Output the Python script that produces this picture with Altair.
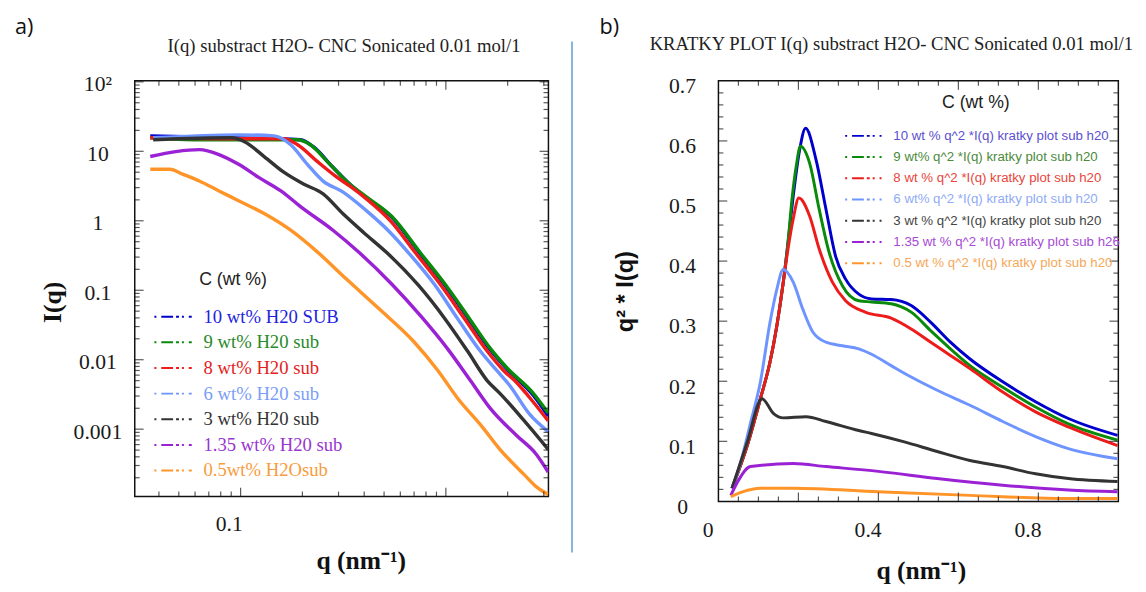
import altair as alt
import pandas as pd

SERIES = ["10", "9", "8", "6", "3", "1.35", "0.5"]
LINE_COLORS = ["#0000cc", "#0a8a0a", "#ee1b1b", "#6e94ff", "#333333", "#9b22d4", "#ff9528"]
LEFT_TEXT_COLORS = ["#1f1fe0", "#2a8a2a", "#e42222", "#7b9ef6", "#333333", "#9a34d2", "#f89c40"]
RIGHT_TEXT_COLORS = ["#5a4fd0", "#4a8a3a", "#e8453c", "#8fabf5", "#454545", "#a64ad4", "#f5a85a"]
LEFT_LABELS = ["10 wt% H20 SUB", "9 wt% H20 sub", "8 wt% H20 sub", "6 wt% H20 sub",
               "3 wt% H20 sub", "1.35 wt% H20 sub", "0.5wt% H2Osub"]
RIGHT_LABELS = [" 10 wt % q^2 *I(q) kratky plot sub h20", "9 wt% q^2 *I(q) kratky plot sub h20",
                "8 wt % q^2 *I(q) kratky plot sub h20", "6 wt% q^2 *I(q) kratky plot sub h20",
                "3 wt % q^2 *I(q) kratky plot sub h20", "1.35 wt % q^2 *I(q) kratky plot sub h26",
                "0.5 wt % q^2 *I(q) kratky plot sub h20"]
TITLE_L = "I(q) substract H2O- CNC Sonicated 0.01 mol/1"
TITLE_R = "KRATKY PLOT I(q) substract H2O- CNC Sonicated 0.01 mol/1"

# ---------------- panel a) : I(q) vs q (log-log) ----------------
L10_Q = [.03629, .09055, .1958, .2260, .2818, .3397, .4098, .5456, .7427, .9890, 1.288, 1.624, 1.981, 2.666, 3.15]
L10_I = [16.68, 15.63, 14.64, 11.65, 5.88, 3.38, 2.14, 1.12, .346, .118, .039, .01468, .00741, .00308, .00155]
L9_Q = [.03629, .06295, .1895, .2186, .2725, .3397, .4098, .5456, .7509, 1.0, 1.303, 1.642, 1.981, 2.666, 3.15]
L9_I = [15.63, 14.64, 14.64, 12.44, 6.49, 3.38, 2.21, 1.15, .346, .118, .039, .01468, .00766, .00328, .00171]
L8_Q = [.03629, .09055, .1623, .1895, .2362, .2944, .3397, .4098, .5397, .7107, .9465, 1.233, 1.589, 1.915, 2.211, 2.551, 3.15]
L8_I = [15.63, 15.12, 15.12, 12.44, 7.15, 4.25, 3.17, 2.07, .981, .346, .118, .039, .01332, .00694, .0047, .00288, .00132]
L6_Q = [.0375, .09781, .1454, .1754, .2115, .2523, .3145, .4098, .5279, .6579, .8858, 1.141, 1.471, 1.774, 2.046, 2.551, 3.15]
L6_I = [15.63, 17.22, 16.68, 12.44, 6.49, 3.73, 2.61, 1.40, .708, .346, .118, .039, .01332, .00694, .00426, .00166, .000922]
L3_Q = [.0375, .09055, .1045, .1302, .1623, .2024, .2523, .3145, .4008, .5164, .7345, .9890, 1.275, 1.589, 1.833, 2.388, 3.15]
L3_I = [14.64, 15.63, 13.72, 8.41, 5.00, 3.38, 2.44, 1.27, .663, .346, .118, .039, .01332, .00501, .00328, .00136, .000513]
L135_Q = [.03629, .04832, .06295, .07848, .09781, .1219, .1571, .1958, .2818, .3793, .5456, .7592, 1.022, 1.317, 1.642, 2.211, 2.755, 3.15]
L135_I = [8.41, 9.90, 10.57, 8.98, 6.49, 4.25, 2.69, 1.60, .731, .346, .122, .0416, .01421, .00501, .00201, .000809, .000436, .000242]
L05_Q = [.03629, .04522, .05221, .06295, .07848, .09781, .1302, .1754, .2362, .3287, .4727, .6952, .9156, 1.141, 1.503, 1.833, 2.388, 2.755, 3.15]
L05_I = [5.51, 5.51, 4.68, 3.73, 2.69, 1.94, 1.27, .731, .357, .1435, .054, .01845, .00694, .00279, .00108, .000513, .000227, .000149, .000115]

# ---------------- panel b) : Kratky plot ----------------
K10_Q = [.034, .072, .105, .129, .146, .162, .174, .187, .203, .218, .244, .269, .293, .318, .351, .383, .432, .482, .531, .580, .629, .711, .793, .875, .998]
K10_V = [.022, .093, .171, .232, .292, .364, .431, .508, .585, .621, .569, .486, .408, .370, .345, .337, .336, .326, .298, .265, .237, .199, .166, .138, .110]
K9_Q = [.034, .072, .105, .129, .146, .162, .174, .183, .195, .205, .228, .252, .277, .310, .351, .383, .432, .482, .531, .580, .629, .711, .793, .875, .998]
K9_V = [.022, .093, .171, .232, .292, .364, .431, .497, .560, .591, .563, .486, .414, .359, .334, .332, .329, .315, .284, .254, .226, .190, .157, .129, .102]
K8_Q = [.034, .072, .105, .129, .146, .162, .174, .187, .201, .228, .252, .285, .318, .367, .432, .482, .531, .580, .629, .711, .793, .875, .998]
K8_V = [.022, .093, .171, .232, .292, .364, .420, .470, .505, .475, .420, .365, .334, .315, .305, .287, .265, .243, .221, .182, .149, .124, .093]
K6_Q = [.034, .056, .080, .105, .129, .146, .162, .187, .211, .236, .269, .310, .351, .383, .432, .482, .547, .629, .711, .793, .875, .998]
K6_V = [.022, .066, .130, .199, .298, .353, .386, .365, .320, .282, .265, .259, .254, .245, .226, .207, .185, .160, .133, .108, .088, .071]
K3_Q = [.034, .072, .109, .138, .162, .219, .269, .351, .383, .465, .547, .629, .711, .793, .875, .998]
K3_V = [.022, .099, .171, .146, .139, .141, .133, .118, .113, .099, .083, .068, .058, .046, .038, .033]
K135_Q = [.031, .050, .080, .187, .269, .400, .547, .711, .875, .998]
K135_V = [.010, .035, .058, .063, .058, .050, .038, .027, .019, .016]
K05_Q = [.031, .060, .105, .187, .400, .629, .875, .998]
K05_V = [.008, .016, .022, .022, .016, .010, .005, .005]

# axis tick values
LY_MAJOR = [0.001, 0.01, 0.1, 1, 10, 100]
LY_MINOR = [k * 10.0 ** e for e in range(-4, 2) for k in range(2, 10) if 1.08e-4 < k * 10.0 ** e < 103]
LX_MAJOR = [0.1, 1]
LX_MINOR = [k * 10.0 ** e for e in range(-2, 1) for k in range(2, 10) if 0.031 < k * 10.0 ** e < 3.16]
KY_MAJOR = [0.1, 0.2, 0.3, 0.4, 0.5, 0.6]
KY_MINOR = [0.02, 0.04, 0.06, 0.08, 0.12, 0.14, 0.16, 0.18, 0.22, 0.24, 0.26, 0.28, 0.32, 0.34, 0.36, 0.38,
            0.42, 0.44, 0.46, 0.48, 0.52, 0.54, 0.56, 0.58, 0.62, 0.64, 0.66, 0.68]
KX_MAJOR = [0.2, 0.4, 0.6, 0.8]
KX_MINOR = [0.05, 0.1, 0.15, 0.25, 0.3, 0.35, 0.45, 0.5, 0.55, 0.65, 0.7, 0.75, 0.85, 0.9, 0.95]

SERIF = "Liberation Serif"
SANS = "Liberation Sans"

# ---------------- shared axis definitions ----------------
W_L, H_L = 421, 423
W_R, H_R = 407, 428
XL = alt.Scale(type="log", domain=[0.0305, 3.16], nice=False)
YL = alt.Scale(type="log", domain=[1.074e-4, 103.3], nice=False)
XR = alt.Scale(domain=[0, 1.0], nice=False, zero=False)
YR = alt.Scale(domain=[0, 0.7], nice=False)

AX_XL = alt.Axis(
    values=[0.1], labelExpr="format(datum.value, '~g')", ticks=False, tickSize=0, domain=False,
    grid=False, labelFont=SERIF, labelFontSize=22, labelColor="#1a1a1a", labelPadding=28,
    labelBaseline="middle", labelOffset=-12, labelFlush=False,
    title="q (nm⁻¹)", titleFont=SERIF, titleFontSize=26, titleFontWeight="bold", titleColor="#111",
    titleX=230, titleY=65, titleBaseline="middle", titleAlign="center")
AX_YL = alt.Axis(
    values=LY_MAJOR, labelExpr="datum.value >= 99 ? '10²' : format(datum.value, '~g')",
    ticks=False, tickSize=0, domain=False, grid=False, labelFont=SERIF, labelFontSize=22,
    labelColor="#1a1a1a", labelAlign="center", labelBaseline="middle", labelPadding=38,
    labelOffset=2, labelFlush=False, labelOverlap=False,
    title="I(q)", titleFont=SERIF, titleFontSize=26, titleFontWeight="bold", titleColor="#111",
    titleAngle=270, titleX=-84, titleY=225, titleBaseline="middle", titleAlign="center")
AX_XR = alt.Axis(
    values=[0, 0.4, 0.8], labelExpr="format(datum.value, '~g')", ticks=False, tickSize=0,
    domain=False, grid=False, labelFont=SERIF, labelFontSize=22, labelColor="#1a1a1a",
    labelPadding=29, labelBaseline="middle", labelOffset=-11, labelFlush=False,
    title="q (nm⁻¹)", titleFont=SERIF, titleFontSize=26, titleFontWeight="bold", titleColor="#111",
    titleX=206, titleY=70, titleBaseline="middle", titleAlign="center")
AX_YR = alt.Axis(
    values=[0, 0.1, 0.2, 0.3, 0.4, 0.5, 0.6, 0.7], labelExpr="format(datum.value, '~g')",
    ticks=False, tickSize=0, domain=False, grid=False, labelFont=SERIF, labelFontSize=22,
    labelColor="#1a1a1a", labelAlign="center", labelBaseline="middle", labelPadding=37,
    labelOffset=5, labelFlush=False, labelOverlap=False,
    title="q² * I(q)", titleFont=SANS, titleFontSize=24, titleFontWeight="bold", titleColor="#111",
    titleAngle=270, titleX=-94, titleY=214, titleBaseline="middle", titleAlign="center")


def long_frame(qs, vs, key):
    frames = [pd.DataFrame({"q": q, key: v, "s": s}) for s, q, v in zip(SERIES, qs, vs)]
    return pd.concat(frames, ignore_index=True)


def hticks(vals, scale, axis, size, xpos):
    return alt.Chart(pd.DataFrame({"v": vals})).mark_tick(
        orient="horizontal", size=size, thickness=1.2, color="#111"
    ).encode(y=alt.Y("v:Q", scale=scale, axis=axis), x=alt.value(xpos))


def vticks(vals, scale, axis, size, ypos):
    return alt.Chart(pd.DataFrame({"v": vals})).mark_tick(
        orient="vertical", size=size, thickness=1.2, color="#111"
    ).encode(x=alt.X("v:Q", scale=scale, axis=axis), y=alt.value(ypos))


def txt(text, x, y, size, color, font, align="left", weight="normal", baseline="middle"):
    return alt.Chart(pd.DataFrame({"t": [text]})).mark_text(
        align=align, baseline=baseline, font=font, fontSize=size, color=color, fontWeight=weight
    ).encode(text="t:N", x=alt.value(x), y=alt.value(y))


def sym(x1, x2, y, color):
    return alt.Chart(pd.DataFrame({"a": [0]})).mark_rule(
        color=color, strokeWidth=2, strokeDash=[2, 5, 12, 3, 3, 3]
    ).encode(x=alt.value(x1), x2=alt.value(x2), y=alt.value(y))


color_enc = alt.Color("s:N", scale=alt.Scale(domain=SERIES, range=LINE_COLORS), legend=None)

# ---------------- left panel ----------------
dfL = long_frame([L10_Q, L9_Q, L8_Q, L6_Q, L3_Q, L135_Q, L05_Q],
                 [L10_I, L9_I, L8_I, L6_I, L3_I, L135_I, L05_I], "I")

lines_L = alt.Chart(dfL).mark_line(strokeWidth=3.5, clip=True, interpolate="monotone").encode(
    x=alt.X("q:Q", scale=XL, axis=AX_XL),
    y=alt.Y("I:Q", scale=YL, axis=AX_YL),
    color=color_enc,
)

left_layers = [lines_L,
               hticks(LY_MAJOR, YL, AX_YL, 9, 4.5), hticks(LY_MINOR, YL, AX_YL, 5, 2.5),
               hticks(LY_MAJOR, YL, AX_YL, 9, W_L - 4.5), hticks(LY_MINOR, YL, AX_YL, 5, W_L - 2.5),
               vticks(LX_MAJOR, XL, AX_XL, 9, H_L - 4.5), vticks(LX_MINOR, XL, AX_XL, 5, H_L - 2.5),
               vticks(LX_MAJOR, XL, AX_XL, 9, 4.5), vticks(LX_MINOR, XL, AX_XL, 5, 2.5),
               txt("C (wt %)", 100, 203, 18, "#222", SANS, align="center")]
for i, (lab, col, tcol) in enumerate(zip(LEFT_LABELS, LINE_COLORS, LEFT_TEXT_COLORS)):
    yy = 240 + 26.1 * i
    left_layers.append(sym(20, 58, yy, col))
    left_layers.append(txt(lab, 70, yy, 19, tcol, SERIF))
left_layers.append(txt(TITLE_L, 213, -35, 19, "#222", SERIF, align="center"))
left_layers.append(txt("a)", -122, -65, 22, "#111", "Open Sans", baseline="top"))
left_layers.append(alt.Chart(pd.DataFrame({"a": [0]})).mark_rule(color="#5b9bd5", strokeWidth=1.5).encode(
    x=alt.value(445), y=alt.value(-40), y2=alt.value(480)))

left = alt.layer(*left_layers).properties(width=W_L, height=H_L)

# ---------------- right panel ----------------
dfR = long_frame([K10_Q, K9_Q, K8_Q, K6_Q, K3_Q, K135_Q, K05_Q],
                 [K10_V, K9_V, K8_V, K6_V, K3_V, K135_V, K05_V], "v")

lines_R = alt.Chart(dfR).mark_line(strokeWidth=3, clip=True, interpolate="monotone").encode(
    x=alt.X("q:Q", scale=XR, axis=AX_XR),
    y=alt.Y("v:Q", scale=YR, axis=AX_YR),
    color=color_enc,
)

right_layers = [lines_R,
                hticks(KY_MAJOR, YR, AX_YR, 9, 4.5), hticks(KY_MINOR, YR, AX_YR, 5, 2.5),
                hticks(KY_MAJOR, YR, AX_YR, 9, W_R - 4.5), hticks(KY_MINOR, YR, AX_YR, 5, W_R - 2.5),
                vticks(KX_MAJOR, XR, AX_XR, 9, H_R - 4.5), vticks(KX_MINOR, XR, AX_XR, 5, H_R - 2.5),
                vticks(KX_MAJOR, XR, AX_XR, 9, 4.5), vticks(KX_MINOR, XR, AX_XR, 5, 2.5),
                txt("C (wt %)", 262, 23, 18, "#222", SANS, align="center")]
for i, (lab, col, tcol) in enumerate(zip(RIGHT_LABELS, LINE_COLORS, RIGHT_TEXT_COLORS)):
    yy = 56 + 21.6 * i
    right_layers.append(sym(129, 166, yy, col))
    right_layers.append(txt(lab, 178, yy, 13.5, tcol, SANS))
right_layers.append(txt(TITLE_R, -70, -37, 19, "#222", SERIF))
right_layers.append(txt("b)", -121, -65, 22, "#111", "Open Sans", baseline="top"))

right = alt.layer(*right_layers).properties(width=W_R, height=H_R)

chart = alt.hconcat(left, right, spacing=25).properties(
    padding={"left": 6, "top": 2, "right": 2, "bottom": 0}
).configure_view(stroke="#111", strokeWidth=1.5)

chart.save("out.html", embed_options={"renderer": "svg", "actions": False})
